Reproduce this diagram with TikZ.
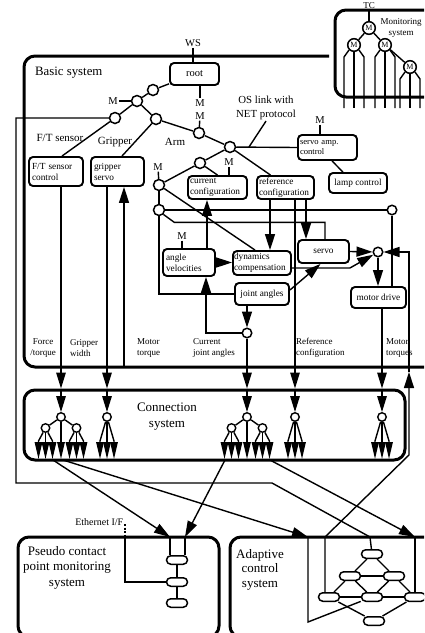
\documentclass[tikz,border=0pt]{standalone}
\usepackage{fontspec}
\setmainfont{Liberation Serif}
\usetikzlibrary{arrows.meta,calc}

% fan of three arrows hanging below a small hub: #1 name, #2 x, #3 y
\newcommand\fanout[3]{%
  \node[fhub] (#1) at (#2,#3) {};
  \draw[farr] (#1) -- (#2-7,441) -- (#2-7,459);
  \draw[farr] (#1) -- (#2,459);
  \draw[farr] (#1) -- (#2+7,441) -- (#2+7,459);
}
% two-level fan: hub with two sub-fans and a middle arrow: #1 name, #2 x
\newcommand\bigfan[2]{%
  \node[fhub] (#1) at (#2,417) {};
  \fanout{#1l}{#2-15.5}{428}
  \fanout{#1r}{#2+15.5}{428}
  \draw[wire] (#1) -- (#1l);
  \draw[wire] (#1) -- (#1r);
  \draw[farr] (#1) -- (#2,459);
}
% three legs below a monitor node: #1 name, #2 x, #3 y
\newcommand\legs[3]{%
  \draw[wire] (#1.south west) -- (#2-10,#3+12) -- (#2-10,108);
  \draw[wire] (#1.south) -- (#2,108);
  \draw[wire] (#1.south east) -- (#2+10,#3+12) -- (#2+10,108);
}

\begin{document}
\begin{tikzpicture}[x=1pt,y=-1pt,
  every node/.style={inner sep=1pt,font=\fontsize{10.5}{12}\selectfont},
  wire/.style={line width=1.4pt},
  arr/.style={wire,-{Triangle[length=16pt,width=10pt]}},
  carr/.style={wire,-{Triangle[length=16pt,width=9.5pt]}},
  farr/.style={wire,-{Triangle[length=17pt,width=7.5pt]}},
  box/.style={draw,line width=1.9pt,rounded corners=4pt,inner xsep=3pt,inner ysep=0pt,align=left,font=\fontsize{9.3}{11}\selectfont},
  frame/.style={draw,line width=3pt,rounded corners=11pt,inner sep=0pt},
  hub/.style={circle,draw,fill=white,line width=1.5pt,minimum size=11pt,inner sep=0pt},
  shub/.style={hub,minimum size=9.5pt},
  fhub/.style={hub,minimum size=8.5pt,line width=1.4pt},
  mhub/.style={hub,minimum size=12.6pt,font=\fontsize{8}{8}\selectfont},
  pill/.style={draw,fill=white,line width=1.5pt,rounded corners=4.25pt,minimum width=21pt,minimum height=8.5pt,inner sep=0pt},
  sig/.style={font=\fontsize{9}{10.5}\selectfont,align=left,anchor=west},
  big/.style={font=\fontsize{13}{15.5}\selectfont,align=center},
]
\useasboundingbox (0,0) rectangle (424,633);
\fill[white] (0,0) rectangle (424,633);
\clip (0,0) rectangle (424,633);

% ---------- outer frames ----------
\draw[line width=3pt,rounded corners=11pt] (329,56) -- (24,56) -- (24,367) -- (440,367);
\node[anchor=west,font=\fontsize{12.8}{15}\selectfont] (bslab) at (34,73) {Basic system};

\node[frame,minimum width=381pt,minimum height=70pt] (cs) at (214.5,425) {};
\node[big] (cslab) at (167,416.5) {Connection\\system};

\node[frame,minimum width=201pt,minimum height=100pt] (pc) at (118.5,587) {};
\node[big] (pclab) at (67,567.5) {Pseudo contact\\point monitoring\\system};

\node[frame,minimum width=250pt,minimum height=100pt] (ad) at (355,587) {};
\node[big,font=\fontsize{13}{14.5}\selectfont] (adlab) at (260,569.5) {Adaptive\\control\\system};

\node[frame,minimum width=145pt,minimum height=87pt] (mon) at (407.5,53.5) {};
\node[align=center,font=\fontsize{9}{11}\selectfont] (monlab) at (401,27.5) {Monitoring\\system};

% ---------- monitoring tree ----------
\node[mhub] (mc0) at (369,28) {M};
\node[mhub] (mc1) at (354,45) {M};
\node[mhub] (mc2) at (385,45) {M};
\node[mhub] (mc3) at (410,67) {M};
\node[anchor=base,font=\fontsize{9}{10}\selectfont] (tc) at (369,8) {TC};
\draw[wire] (tc) -- (mc0);
\draw[wire] (mc0) -- (mc1);
\draw[wire] (mc0) -- (mc2);
\draw[wire] (mc2) -- (mc3);
\legs{mc1}{354}{45}
\legs{mc2}{385}{45}
\legs{mc3}{410}{67}

% ---------- basic system: tree of links ----------
\node (ws) at (193,43) {WS};
\node[box,align=center,minimum width=49pt,minimum height=22pt,font=\fontsize{10.5}{12}\selectfont] (root) at (194.5,74) {root};
\draw[wire] (ws) -- (ws |- root.north);

\node[hub] (c1) at (153,90) {};
\node[hub] (cM) at (137,101) {};
\node[hub] (cFT) at (115,118) {};
\node[hub] (cGr) at (156,119) {};
\node[hub] (cArm) at (199,133) {};
\node[hub] (cOS) at (230,147) {};
\node[hub] (cCC) at (200,163) {};
\node[hub] (cA) at (159,185) {};
\node[hub] (cB) at (159,210) {};
\node[shub] (cC) at (392,210) {};
\node[shub] (cD) at (378,252) {};
\node[shub] (cE) at (247,333) {};

\node (mlab) at (113,101) {M};
\node (mA) at (200,103) {M};
\node (mB) at (200,116) {M};
\node (mS) at (320,120) {M};
\node (mC) at (229,162) {M};
\node (mAl) at (158,167) {M};
\node (mAV) at (182,236) {M};
\node[font=\fontsize{11}{12}\selectfont] (lft) at (60,138) {F/T sensor};
\node[font=\fontsize{11}{12}\selectfont] (lgr) at (115,142) {Gripper};
\node[font=\fontsize{11}{12}\selectfont] (larm) at (175,142) {Arm};
\node[align=center,font=\fontsize{10.8}{14}\selectfont] (oslab) at (266,108) {OS link with\\NET protocol};

% ---------- function boxes ----------
\node[box,text width=48pt,minimum height=29pt] (ftc) at (56,171.5) {F/T sensor\\control};
\node[box,text width=47pt,minimum height=29pt] (gs) at (117.5,171.5) {gripper\\servo};
\node[box,text width=55pt,inner xsep=2pt,minimum height=25pt,font=\fontsize{8.6}{10}\selectfont] (sac) at (327.5,147.5) {servo amp.\\control};
\node[box,align=center,minimum width=58pt,minimum height=20pt] (lamp) at (358,183) {lamp control};
\node[box,text width=55pt,inner xsep=2pt,minimum height=23pt] (cc) at (217.5,187.5) {current\\configuration};
\node[box,text width=53pt,inner xsep=2pt,minimum height=23pt] (rc) at (285.5,187.5) {reference\\configuration};
\node[box,text width=46pt,minimum height=27pt] (av) at (189,262.5) {angle\\velocities};
\node[box,text width=56pt,inner xsep=1pt,minimum height=24pt] (dc) at (262,263) {dynamics\\compensation};
\node[box,align=center,minimum width=51pt,minimum height=23pt] (servo) at (323.5,251.5) {servo};
\node[box,align=center,minimum width=54pt,minimum height=22pt] (ja) at (262,294) {joint angles};
\node[box,align=center,minimum width=55pt,minimum height=21pt] (md) at (378.5,297.5) {motor drive};

% ---------- links ----------
\draw[wire] (root) -- (c1);
\draw[wire] (c1) -- (cM);
\draw[wire] (mlab) -- (cM);
\draw[wire] (cM) -- (cFT);
\draw[wire] (cM) -- (cGr);
\draw[wire] (cFT) -- ([xshift=6pt]ftc.north);
\draw[wire] (cGr) -- ([xshift=4.5pt]gs.north);
\draw[wire] (cGr) -- (cArm);
\draw[wire] ([xshift=5.5pt]root.south) -- (mA);
\draw[wire] (mB) -- (cArm);
\draw[wire] (cArm) -- (cOS);
\draw[wire] (cOS) -- (sac.west);
\coordinate (osj) at (249,147);
\draw[wire] (osj) -- (oslab.south);
\draw[wire] (mS) -- (mS |- sac.north);
\draw[wire] ([xshift=4.5pt]sac.south) -- ([xshift=-15pt]lamp.north);
\draw[wire] (cOS) -- (cCC);
\draw[wire] (cOS) -- ([xshift=-15pt]rc.north);
\draw[wire] (cCC) -- (cc.north);
\draw[wire] (mC) -- (mC |- cc.north);
\draw[wire] (cCC) -- (cA);
\draw[wire] (mAl) -- (cA);
\draw[wire] (cA) -- (cB);
\draw[wire] (cA) -- ([xshift=-7pt]dc.north);
\draw[wire] (cB) -- (cC);
\draw[wire] (cB.south east) -- ++(11,8) -| ([xshift=1.5pt]servo.north);
\draw[wire] (cB) |- (ja.west);
\draw[wire] (cC) -- (cC |- md.north);
\draw[wire] (mAV) -- (mAV |- av.north);

% ---------- signal flow inside the arm ----------
\draw[arr] ([xshift=-15.5pt]rc.south) -- ([xshift=-15.5pt]rc.south |- dc.north);
\draw[arr] ([xshift=20.5pt]rc.south) -- ([xshift=20.5pt]rc.south |- servo.north);
\draw[arr] (av.east) -- (av.east -| dc.west);
\draw[arr] ([xshift=18pt]av.north) -- ([xshift=18pt]av.north |- cc.south);
\draw[arr] (cE.west) -| ([xshift=17pt]av.south);
\draw[arr] ([xshift=-15pt]ja.south) -- (cE);
\draw[arr] ([yshift=4pt]ja.east) -- ([xshift=-3pt]servo.south);
\draw[arr] (servo.east) -- (cD);
\draw[arr] ([yshift=-5pt]dc.east) -- ++(58,0) -- (cD);
\draw[arr] (cD) -- (cD |- md.north);
\coordinate (mtC) at (409,372);
\draw[arr] (mtC) |- (cD);
\coordinate (mtg) at (124,367);
\draw[arr] (mtg) -- (mtg |- gs.south);

% ---------- signal labels ----------
\node[sig,align=center,anchor=center] (lforce) at (43,348) {Force\\/torque};
\node[sig] (lgw) at (69,348) {Gripper\\width};
\node[sig] (lmt) at (136,348) {Motor\\torque};
\node[sig] (lcj) at (192,348) {Current\\joint angles};
\node[sig] (lrc) at (295,348) {Reference\\configuration};
\node[sig] (lmts) at (385,348) {Motor\\torques};

% ---------- connection system fans ----------
\bigfan{f1}{61}
\fanout{f2}{107}{417}
\bigfan{f3}{247}
\fanout{f4}{295}{417}
\fanout{f5}{382}{417}

\draw[carr] ([xshift=5pt]ftc.south) -- ([xshift=5pt]ftc.south |- cs.north);
\draw[carr] ([xshift=5pt]ftc.south |- cs.north) -- (f1);
\draw[carr] ([xshift=-10.5pt]gs.south) -- ([xshift=-10.5pt]gs.south |- cs.north);
\draw[carr] ([xshift=-10.5pt]gs.south |- cs.north) -- (f2);
\draw[carr] (cE) -- (cE |- cs.north);
\draw[carr] (cE |- cs.north) -- (f3);
\draw[carr] ([xshift=9.5pt]rc.south) -- ([xshift=9.5pt]rc.south |- cs.north);
\draw[carr] ([xshift=9.5pt]rc.south |- cs.north) -- (f4);
\draw[carr] ([xshift=3.5pt]md.south) -- ([xshift=3.5pt]md.south |- cs.north);
\draw[carr] ([xshift=3.5pt]md.south |- cs.north) -- (f5);

% ---------- pseudo contact point monitoring ----------
\node[pill] (p1) at (177,560) {};
\node[pill] (p2) at (177,582) {};
\node[pill] (p3) at (177,603) {};
\draw[wire] (p1) -- (p2);
\draw[wire] (p2) -- (p3);
\node[anchor=base east,font=\fontsize{10}{12}\selectfont] (eth) at (124.5,525.5) {Ethernet I/F};
\coordinate (ethc) at (125,524);
\draw[wire,dash pattern=on 2pt off 1.5pt] (ethc) -- (ethc |- pc.north);
\draw[wire] (ethc |- pc.north) |- (p2.west);

% ---------- adaptive control network ----------
\node[pill] (t1) at (372,554) {};
\node[pill] (r2l) at (350,576) {};
\node[pill] (r2r) at (394,576) {};
\node[pill] (r3l) at (329,597) {};
\node[pill] (r3m) at (372,597) {};
\node[pill] (r3r) at (415,597) {};
\node[pill] (bt) at (374,621) {};
\draw[wire] (t1) -- (r2l);
\draw[wire] (t1) -- (r2r);
\draw[wire] (r2l) -- (r2r);
\draw[wire] (r2l) -- (r3l);
\draw[wire] (r2l) -- (r3m);
\draw[wire] (r2r) -- (r3m);
\draw[wire] (r2r) -- (r3r);
\draw[wire] (r3l) -- (r3m);
\draw[wire] (r3m) -- (r3r);
\draw[wire] (r3l) -- (bt);
\draw[wire] (r3r) -- (bt);

% ---------- links between the systems ----------
\coordinate (o1) at (53,460);
\coordinate (o2) at (63,460);
\coordinate (o3) at (225,460);
\coordinate (o4) at (270,460);
\coordinate (i1) at (170,537);
\coordinate (i2) at (308,537);
\coordinate (i3) at (185,537);
\coordinate (i4) at (415,537);
\draw[arr] (o1) -- (i1);
\draw[arr] (o2) -- (i2);
\draw[arr] (o3) -- (i3);
\draw[arr] (o4) -- (i4);
\draw[wire] (i1) -- (i1 |- p1.north);
\draw[wire] (i3) -- (i3 |- p1.north);
\draw[wire] (i2) -- (308,622) -- (r3m);
\draw[wire] (i4) -- (i4 |- r3r.north);
\draw[wire] (cFT) -- (16,118) |- (272,483) -- (370,537) -- (t1);
\draw[arr] ([xshift=-4pt]r3l.north) -- (325,537) -- (409,455) -- (mtC);
\end{tikzpicture}
\end{document}
